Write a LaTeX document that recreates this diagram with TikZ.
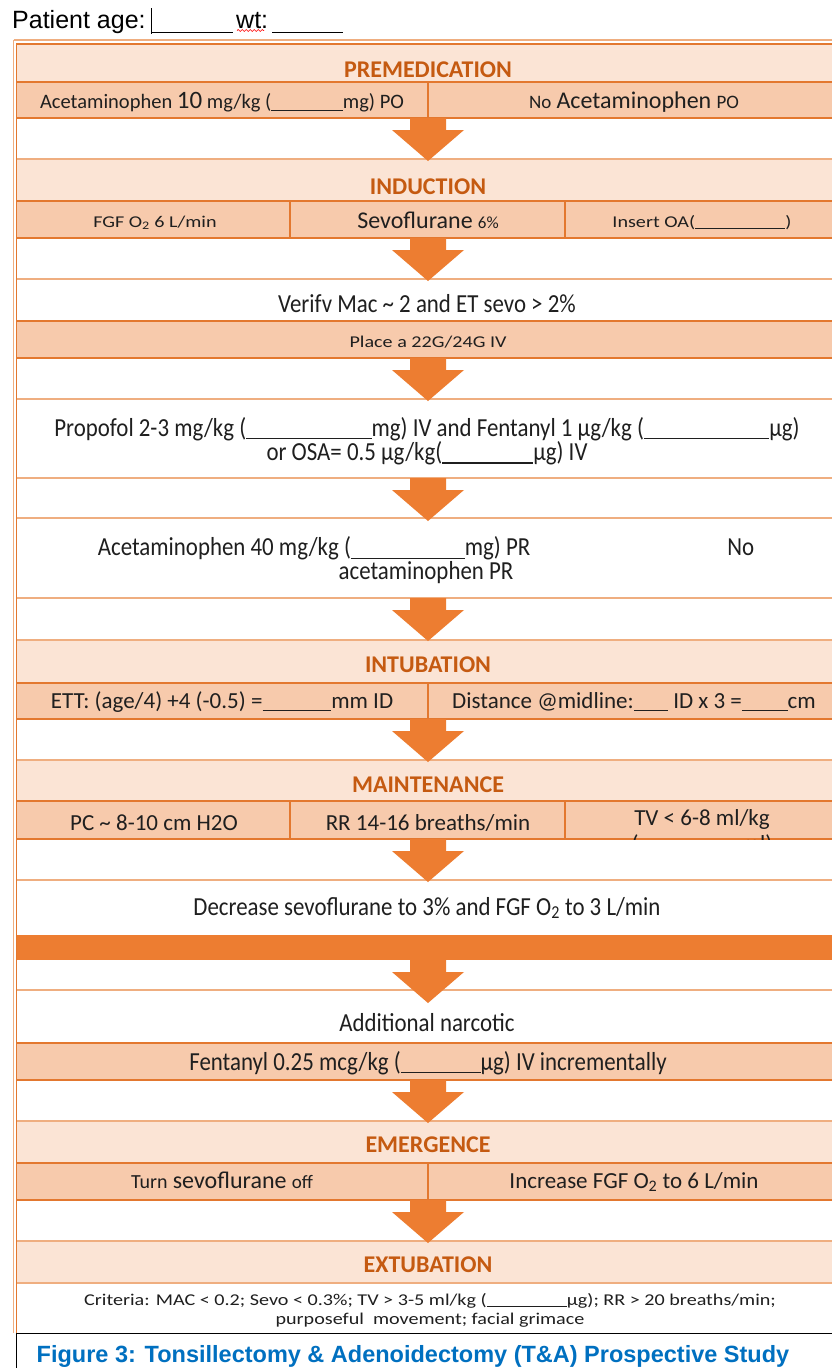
\documentclass[tikz,border=0pt]{standalone}
\usepackage{fontspec}
\setmainfont{Carlito}
\newfontfamily\arialfont{Liberation Sans}
\newfontfamily\narrowfont[FakeStretch=0.88]{Carlito}
\newfontfamily\widefont[FakeStretch=1.22]{Carlito}
\usetikzlibrary{decorations.pathmorphing}
\definecolor{hdrfill}{HTML}{FBE4D5}
\definecolor{cellfill}{HTML}{F7CAAC}
\definecolor{gridor}{HTML}{E3782F}
\definecolor{softor}{HTML}{EFAE80}
\definecolor{flowor}{HTML}{ED7D31}
\definecolor{hdrtext}{HTML}{C55A11}
\definecolor{capblue}{HTML}{0070C0}
\tikzset{
  hdr/.style={inner sep=0pt, text=hdrtext, font=\fontsize{24}{28}\selectfont\bfseries},
  txt/.style={inner sep=0pt, text=black!88, align=center, font=\fontsize{23}{26}\selectfont},
  cond/.style={inner sep=0pt, text=black!88, align=center, font=\narrowfont\fontsize{26}{22}\selectfont},
  sml/.style={inner sep=0pt, text=black!88, align=center, font=\widefont\fontsize{16.5}{19}\selectfont},
  rowline/.style={draw=gridor, line width=1.8pt},
  softline/.style={draw=softor, line width=1.2pt},
}
\newcommand{\blank}[1]{\rule[-0.13em]{#1em}{0.055em}}

\begin{document}
\begin{tikzpicture}[x=1pt, y=-1pt]
\useasboundingbox (0,0) rectangle (831,1368);
\fill[white] (0,0) rectangle (831,1368);

% patient line above the chart
\node[anchor=base west, inner sep=0pt, font=\arialfont\fontsize{25}{28}\selectfont] (age) at (12,28) {Patient age:};
\node[anchor=base west, inner sep=0pt, font=\arialfont\fontsize{25}{28}\selectfont] (wt) at (236,28) {wt:};
\draw[line width=0.8pt] (151.5,8) -- (151.5,34);
\draw[line width=1.2pt] (152,32.5) -- (233,32.5);
\draw[line width=1.2pt] (272,32.5) -- (343,32.5);
\draw[red, line width=0.7pt, decorate, decoration={snake, amplitude=1pt, segment length=4pt}] (237,30.5) -- (264,30.5);

% row fills: headers, shaded cells, orange bar
\foreach \t/\b in {44/82,159/201,640/683,760/801,1121/1163,1241/1283}
  \fill[hdrfill] (16,\t) rectangle (840,\b);
\foreach \t/\b in {82/118,201/238,321/358,683/719,801/839,1043/1080,1163/1200}
  \fill[cellfill] (16,\t) rectangle (840,\b);
\fill[flowor] (16,935) rectangle (840,960);

% row rules and cell dividers
\foreach \y in {44,82,118,201,238,321,358,683,719,801,839,1043,1080,1163,1200}
  \draw[rowline] (16,\y) -- (840,\y);
\foreach \y in {159,279,399,478,518,598,640,760,880,990,1121,1241,1283}
  \draw[softline] (16,\y) -- (840,\y);
\foreach \x/\t/\b in {428/82/118,290/201/238,565/201/238,428/683/719,290/801/839,565/801/839,428/1163/1200}
  \draw[rowline] (\x,\t) -- (\x,\b);
\draw[softline] (13.5,40) -- (840,40);
\draw[softline] (13.5,40) -- (13.5,1333);
\draw[rowline] (16.5,44) -- (16.5,1333);

% block arrows between the steps
\foreach \t in {118,238,358,478,598,719,839,960,1080,1200}
  \fill[flowor] (410,\t) -- (446,\t) -- (446,\t+12) -- (464,\t+12) -- (428,\t+43)
    -- (392,\t+12) -- (410,\t+12) -- cycle;

% premedication
\node[hdr] (premed) at (428,70) {PREMEDICATION};
\node[txt, anchor=base, font=\fontsize{20.5}{24}\selectfont] (acetpo) at (222,108)
  {Acetaminophen {\fontsize{25}{26}\selectfont 10} mg/kg (\blank{3.49}mg) PO};
\node[txt, anchor=base] (noacetpo) at (634,108)
  {{\fontsize{19}{22}\selectfont No} {\fontsize{24}{26}\selectfont Acetaminophen} {\fontsize{19}{22}\selectfont PO}};

% induction
\node[hdr] (induct) at (428,187) {INDUCTION};
\node[sml, anchor=base] (fgf) at (155,227) {FGF O\textsubscript{2} 6 L/min};
\node[txt, anchor=base] (sevo) at (428,228)
  {{\fontsize{24}{26}\selectfont Sevoflurane} {\fontsize{17}{20}\selectfont 6\%}};
\node[sml, anchor=base] (oa) at (702,227) {Insert OA(\blank{5.47})};
\node[cond, anchor=base] (verify) at (427,312) {Verifv Mac \textasciitilde{} 2 and ET sevo > 2\%};
\node[sml, anchor=base] (ivline) at (428,347) {Place a 22G/24G IV};
\node[cond] (propofol) at (427,441)
  {Propofol 2-3 mg/kg (\blank{4.82}mg) IV and Fentanyl 1 µg/kg (\blank{4.82}µg)\\
   or OSA= 0.5 µg/kg(\blank{3.5}µg) IV};
\node[cond] (acetpr) at (426,560)
  {Acetaminophen 40 mg/kg (\blank{4.38}mg) PR\hspace{197pt}No\\acetaminophen PR};

% intubation
\node[hdr] (intub) at (428,665) {INTUBATION};
\node[txt, anchor=base] (ett) at (222,708) {ETT: (age/4) +4 (-0.5) =\blank{2.99}mm ID};
\node[txt, anchor=base] (dist) at (634,708) {Distance @midline:\blank{1.49} ID x 3 =\blank{1.99}cm};

% maintenance
\node[hdr] (maint) at (428,785) {MAINTENANCE};
\node[txt, anchor=base] (pc) at (154,830) {PC \textasciitilde{} 8-10 cm H2O};
\node[txt, anchor=base] (rr) at (428,830) {RR 14-16 breaths/min};
\begin{scope}
  \clip (565,801) rectangle (840,839);
  \node[txt, anchor=base] (tv) at (702,825) {TV < 6-8 ml/kg};
  \node[txt, anchor=base] (tvblank) at (702,851) {(\blank{4.48}ml)};
\end{scope}
\node[cond, anchor=base] (decrease) at (427,915)
  {Decrease sevoflurane to 3\% and FGF O\textsubscript{2} to 3 L/min};
\node[cond, anchor=base] (narcotic) at (427,1031) {Additional narcotic};
\node[cond, anchor=base] (fentanyl) at (428,1070) {Fentanyl 0.25 mcg/kg (\blank{3.07}µg) IV incrementally};

% emergence
\node[hdr] (emerg) at (428,1145) {EMERGENCE};
\node[txt, anchor=base] (sevooff) at (222,1188)
  {{\fontsize{20}{22}\selectfont Turn} {\fontsize{24}{26}\selectfont sevoflurane} {\fontsize{19}{22}\selectfont off}};
\node[txt, anchor=base] (fgfup) at (634,1188) {Increase FGF O\textsubscript{2} to 6 L/min};

% extubation
\node[hdr] (extub) at (428,1265) {EXTUBATION};
\node[sml] (criteria) at (430,1310)
  {Criteria: MAC < 0.2; Sevo < 0.3\%; TV > 3-5 ml/kg (\blank{4.86}µg); RR > 20 breaths/min;\\
   purposeful\ \ movement; facial grimace};

% caption box
\draw[line width=1pt] (16,1368) -- (16,1333) -- (840,1333);
\node[anchor=base, inner sep=0pt, text=capblue, font=\arialfont\fontsize{23.5}{26}\selectfont\bfseries] (caption) at (413,1362)
  {Figure 3: Tonsillectomy \& Adenoidectomy (T\&A) Prospective Study};
\end{tikzpicture}
\end{document}
